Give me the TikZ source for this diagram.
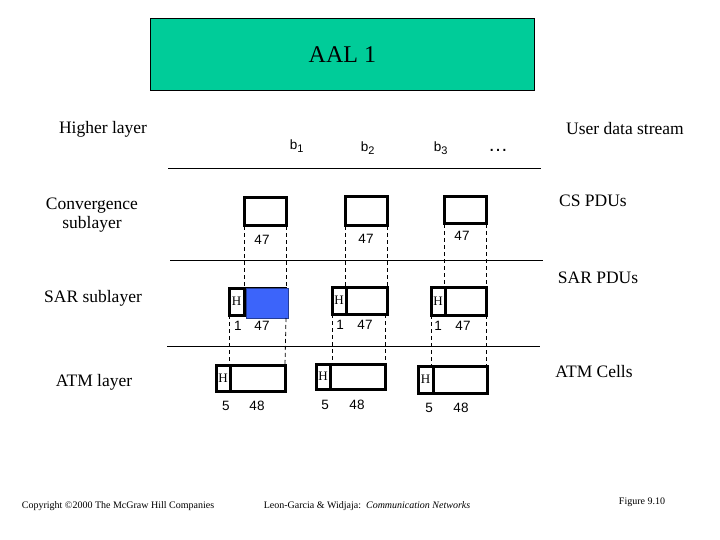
\documentclass[tikz,border=0pt]{standalone}
\usepackage{fontspec}
\setmainfont{Liberation Serif}
\newfontfamily\sansf{Liberation Sans}
\definecolor{aalgreen}{RGB}{0,204,153}
\definecolor{sarblue}{RGB}{60,100,250}
\begin{document}
\begin{tikzpicture}[x=1pt,y=-1pt,
  pdubox/.style={draw, line width=3pt, outer sep=0pt, inner sep=0pt, anchor=north west},
  hlabel/.style={font=\fontsize{13}{13}\selectfont, inner sep=0pt},
  numlabel/.style={font=\sansf\fontsize{13.5}{13.5}\selectfont, inner sep=0pt},
  sidelabel/.style={font=\fontsize{17.5}{19}\selectfont, inner sep=0pt, align=center},
  dashline/.style={dashed, line width=0.8pt, dash pattern=on 4pt off 3pt},
  layerline/.style={line width=1pt},
  foot/.style={font=\fontsize{10}{10}\selectfont, inner sep=0pt}]
\useasboundingbox (0,0) rectangle (720,540);
\fill[white] (0,0) rectangle (720,540);

% title
\node[draw=black, line width=0.8pt, fill=aalgreen, minimum width=384pt, minimum height=72pt,
      anchor=north west, inner sep=0pt, font=\fontsize{24}{24}\selectfont] (aal) at (150,18) {AAL 1};

% side labels
\node[sidelabel] (hl) at (103,129) {Higher layer};
\node[sidelabel] (uds) at (625,129) {User data stream};
\node[sidelabel] (conv) at (92,215) {Convergence\\sublayer};
\node[sidelabel] (cspdu) at (593,201) {CS PDUs};
\node[sidelabel] (sarsub) at (93,298) {SAR sublayer};
\node[sidelabel] (sarpdu) at (598,278) {SAR PDUs};
\node[sidelabel] (atml) at (94,382) {ATM layer};
\node[sidelabel] (atmc) at (594,372) {ATM Cells};

% b labels
\node[numlabel] (b1) at (297,146) {b$_{\mbox{\sansf\fontsize{11}{11}\selectfont 1}}$};
\node[numlabel] (b2) at (368,148) {b$_{\mbox{\sansf\fontsize{11}{11}\selectfont 2}}$};
\node[numlabel] (b3) at (441,148) {b$_{\mbox{\sansf\fontsize{11}{11}\selectfont 3}}$};
\node[font=\sansf\fontsize{20}{20}\selectfont, inner sep=0pt] (dots) at (498,150) {\dots};

% layer lines
\coordinate (l1a) at (168,169); \coordinate (l1b) at (541,169);
\coordinate (l2a) at (170,260); \coordinate (l2b) at (543,260);
\coordinate (l3a) at (167,346); \coordinate (l3b) at (540,346);
\draw[layerline] (l1a) -- (l1b);
\draw[layerline] (l2a) -- (l2b);
\draw[layerline] (l3a) -- (l3b);

% CS PDUs
\node[pdubox, minimum width=42pt, minimum height=28pt] (cs1) at (244,198) {};
\node[pdubox, minimum width=42pt, minimum height=29pt] (cs2) at (345,197) {};
\node[pdubox, minimum width=42pt, minimum height=27pt] (cs3) at (444,197) {};
\node[numlabel] (cs1l) at (262,240) {47};
\node[numlabel] (cs2l) at (366,239) {47};
\node[numlabel] (cs3l) at (462,236) {47};

% SAR PDUs
\node[pdubox, minimum width=15pt, minimum height=27pt] (sarh1) at (229,288) {};
\node[pdubox, minimum width=41pt, minimum height=27pt] (sarb1) at (244,288) {};
\node[anchor=north west, fill=sarblue, draw=sarblue!60!black, line width=0.6pt, outer sep=0pt,
      minimum width=42pt, minimum height=30pt, inner sep=0pt] (blue1) at (246,288) {};
\node[hlabel] at (sarh1) {H};
\node[pdubox, minimum width=14pt, minimum height=27pt] (sarh2) at (332,287) {};
\node[pdubox, minimum width=41pt, minimum height=27pt] (sarb2) at (346,287) {};
\node[hlabel] at (sarh2) {H};
\node[pdubox, minimum width=14pt, minimum height=28pt] (sarh3) at (431,287) {};
\node[pdubox, minimum width=41pt, minimum height=28pt] (sarb3) at (445,287) {};
\node[hlabel] at (sarh3) {H};
\node[numlabel] (s1a) at (238,326) {1};
\node[numlabel] (s1b) at (262,326) {47};
\node[numlabel] (s2a) at (340,325) {1};
\node[numlabel] (s2b) at (365,325) {47};
\node[numlabel] (s3a) at (438,326) {1};
\node[numlabel] (s3b) at (463,326) {47};

% ATM cells
\node[pdubox, minimum width=14pt, minimum height=26pt] (atmh1) at (216,365) {};
\node[pdubox, minimum width=55pt, minimum height=26pt] (atmb1) at (230,365) {};
\node[hlabel] at (atmh1) {H};
\node[pdubox, minimum width=14pt, minimum height=25pt] (atmh2) at (316,364) {};
\node[pdubox, minimum width=55pt, minimum height=25pt] (atmb2) at (330,364) {};
\node[hlabel] at (atmh2) {H};
\node[pdubox, minimum width=15pt, minimum height=27pt] (atmh3) at (418,366) {};
\node[pdubox, minimum width=54pt, minimum height=27pt] (atmb3) at (433,366) {};
\node[hlabel] at (atmh3) {H};
\node[numlabel] (a1a) at (226,406) {5};
\node[numlabel] (a1b) at (257,406) {48};
\node[numlabel] (a2a) at (325,405) {5};
\node[numlabel] (a2b) at (357,405) {48};
\node[numlabel] (a3a) at (429,408) {5};
\node[numlabel] (a3b) at (461,408) {48};

% dashed CS -> SAR
\draw[dashline] (cs1.south west) -- (cs1.south west |- sarb1.north);
\draw[dashline] (cs1.south east) -- (cs1.south east |- sarb1.north);
\draw[dashline] (cs2.south west) -- (cs2.south west |- sarb2.north);
\draw[dashline] (cs2.south east) -- (cs2.south east |- sarb2.north);
\draw[dashline] (cs3.south west) -- (cs3.south west |- sarb3.north);
\draw[dashline] (cs3.south east) -- (cs3.south east |- sarb3.north);

% dashed SAR -> ATM
\draw[dashline] (sarh1.south west) -- (sarh1.south west |- atmh1.north);
\draw[dashline] (blue1.south east) ++(-2,0) -- (sarb1.south east |- atmb1.north);
\draw[dashline] (sarh2.south west) -- (sarh2.south west |- atmh2.north);
\draw[dashline] ([xshift=-2pt]sarb2.south east) -- ([xshift=-2pt]sarb2.south east |- atmb2.north);
\draw[dashline] (sarh3.south west) -- (sarh3.south west |- atmb3.north);
\draw[dashline] (sarb3.south east) -- (sarb3.south east |- atmb3.north);

% footer
\node[foot] (copy) at (118,506) {Copyright ©2000 The McGraw Hill Companies};
\node[foot] (auth) at (367,506) {Leon-Garcia \& Widjaja:\enspace\textit{Communication Networks}};
\node[foot] (fig) at (642,502) {Figure 9.10};
\end{tikzpicture}
\end{document}
